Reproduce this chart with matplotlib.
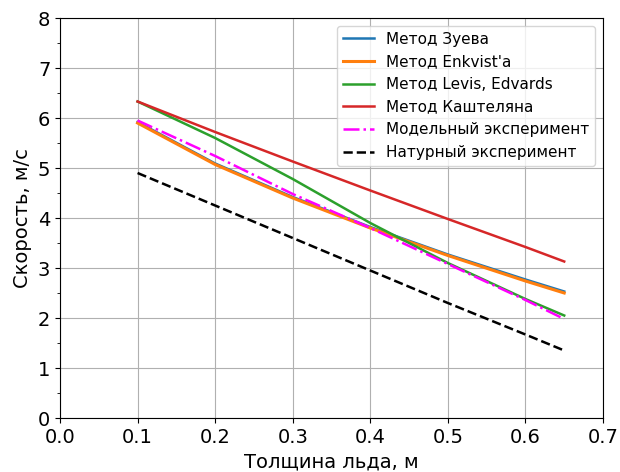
import numpy as np
import matplotlib.pyplot as plt
from matplotlib.ticker import MultipleLocator

thickness = [0.1, 0.2, 0.3, 0.4, 0.5, 0.6, 0.65]
v_zuev = [5.92, 5.09, 4.42, 3.82, 3.27, 2.77, 2.53]
v_enkvist = [5.90, 5.07, 4.40, 3.80, 3.25, 2.74, 2.50]
v_levis = [6.33, 5.60, 4.78, 3.90, 3.10, 2.38, 2.05]
v_kasht = [6.33, 5.72, 5.13, 4.55, 3.98, 3.42, 3.13]
v_model = [5.95, 5.24, 4.48, 3.80, 3.08, 2.36, 1.98]
v_field = [4.90, 4.25, 3.60, 2.95, 2.30, 1.67, 1.35]

fig = plt.figure(figsize=(6.2, 4.72), dpi=100)
ax = fig.add_axes([60/620, 54/472, 543/620, 400/472])

ax.plot(thickness, v_zuev, color='tab:blue', lw=1.8, label='Метод Зуева')
ax.plot(thickness, v_enkvist, color='tab:orange', lw=2.2, label="Метод Enkvist'a")
ax.plot(thickness, v_levis, color='tab:green', lw=1.8, label='Метод Levis, Edvards')
ax.plot(thickness, v_kasht, color='tab:red', lw=1.8, label='Метод Каштеляна')
ax.plot(thickness, v_model, color='magenta', lw=1.8, linestyle='-.', label='Модельный эксперимент')
ax.plot(thickness, v_field, color='black', lw=1.8, linestyle='--', label='Натурный эксперимент')

ax.set_xlim(0, 0.7)
ax.set_ylim(0, 8)
ax.yaxis.set_minor_locator(MultipleLocator(0.5))
ax.tick_params(labelsize=14)
ax.set_xlabel('Толщина льда, м', fontsize=14)
ax.set_ylabel('Скорость, м/с', fontsize=14)
ax.grid(True)
ax.legend(loc='upper right', fontsize=11)

fig.savefig('out.png')
